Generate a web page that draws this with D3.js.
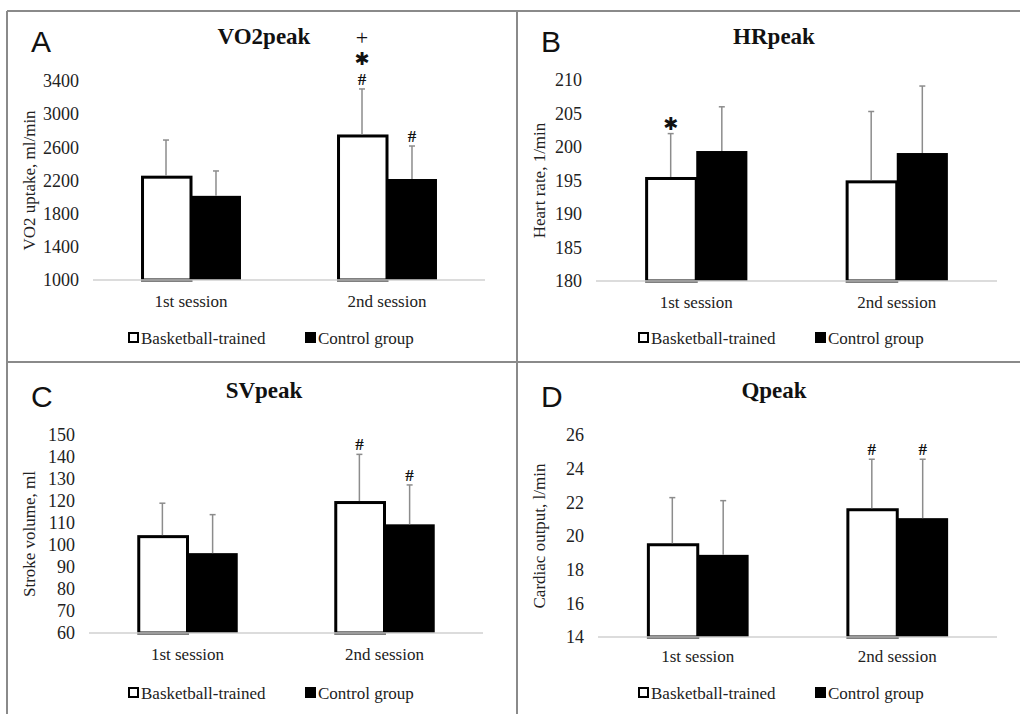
<!DOCTYPE html>
<html>
<head>
<meta charset="utf-8">
<script src="https://cdn.jsdelivr.net/npm/d3@7"></script>
<style>
  body { margin: 0; background: #fff; }
  svg { display: block; }
</style>
</head>
<body>
<div id="chart"></div>
<script>
// data
const sessions = ["1st session", "2nd session"];
const groups = ["Basketball-trained", "Control group"];

const vo2Trained = [2240, 2737], vo2TrainedSd = [448, 567];
const vo2Control = [2015, 2218], vo2ControlSd = [300, 398];
const vo2Ticks = [1000, 1400, 1800, 2200, 2600, 3000, 3400];
const vo2Marks = [[[], []], [["#", "✱", "+"], ["#"]]];

const hrTrained = [195.3, 194.8], hrTrainedSd = [6.7, 10.5];
const hrControl = [199.4, 199.1], hrControlSd = [6.6, 10.0];
const hrTicks = [180, 185, 190, 195, 200, 205, 210];
const hrMarks = [[["✱"], []], [[], []]];

const svTrained = [103.8, 119.3], svTrainedSd = [15.2, 21.9];
const svControl = [96.3, 109.4], svControlSd = [17.5, 17.9];
const svTicks = [60, 70, 80, 90, 100, 110, 120, 130, 140, 150];
const svMarks = [[[], []], [["#"], ["#"]]];

const qTrained = [19.48, 21.56], qTrainedSd = [2.8, 3.0];
const qControl = [18.88, 21.06], qControlSd = [3.22, 3.5];
const qTicks = [14, 16, 18, 20, 22, 24, 26];
const qMarks = [[[], []], [["#"], ["#"]]];

// panel layout
const panels = [
  {letter: "A", title: "VO2peak", ylab: "VO2 uptake, ml/min", x0: 7, y0: 11,
   left: 86, right: 478, top: 70, bottom: 269, titleY: 33, letterY: 41, xlabY: 296, legY: 327,
   trained: vo2Trained, trainedSd: vo2TrainedSd, control: vo2Control, controlSd: vo2ControlSd, ticks: vo2Ticks, marks: vo2Marks},
  {letter: "B", title: "HRpeak", ylab: "Heart rate, 1/min", x0: 517, y0: 11,
   left: 79, right: 480, top: 69, bottom: 270, titleY: 33, letterY: 41, xlabY: 297, legY: 327,
   trained: hrTrained, trainedSd: hrTrainedSd, control: hrControl, controlSd: hrControlSd, ticks: hrTicks, marks: hrMarks},
  {letter: "C", title: "SVpeak", ylab: "Stroke volume, ml", x0: 7, y0: 362,
   left: 82, right: 476, top: 73, bottom: 271, titleY: 36, letterY: 45, xlabY: 298, legY: 331,
   trained: svTrained, trainedSd: svTrainedSd, control: svControl, controlSd: svControlSd, ticks: svTicks, marks: svMarks},
  {letter: "D", title: "Qpeak", ylab: "Cardiac output, l/min", x0: 517, y0: 362,
   left: 81, right: 480, top: 73, bottom: 275, titleY: 36, letterY: 45, xlabY: 300, legY: 331,
   trained: qTrained, trainedSd: qTrainedSd, control: qControl, controlSd: qControlSd, ticks: qTicks, marks: qMarks}
];

const serif = "'Liberation Serif', 'Times New Roman', serif";
const sans = "'Liberation Sans', Arial, sans-serif";

const svg = d3.select("#chart")
  .append("svg")
    .attr("width", 1020)
    .attr("height", 714);

svg.append("rect").attr("width", 1020).attr("height", 714).attr("fill", "#fff");

// frame lines
const frame = svg.append("g").attr("stroke", "#8a8a8a").attr("stroke-width", 2);
frame.append("line").attr("x1", 7).attr("x2", 1020).attr("y1", 11).attr("y2", 11);
frame.append("line").attr("x1", 7).attr("x2", 7).attr("y1", 11).attr("y2", 714);
frame.append("line").attr("x1", 7).attr("x2", 1020).attr("y1", 362).attr("y2", 362);
frame.append("line").attr("x1", 517).attr("x2", 517).attr("y1", 11).attr("y2", 714);

// glyph styles for the significance symbols (dy = baseline shift from symbol centre)
const markStyle = {
  "#": {size: 17, family: serif, weight: "bold", dy: 6},
  "✱": {size: 18, family: "'DejaVu Sans', sans-serif", weight: "normal", dy: 6},
  "+": {size: 22, family: serif, weight: "normal", dy: 6}
};

panels.forEach(p => {
  const g = svg.append("g").attr("transform", `translate(${p.x0},${p.y0})`);

  const x = d3.scaleBand()
    .domain(sessions)
    .range([p.left, p.right])
    .paddingInner(0.49)
    .paddingOuter(0.245);

  const xg = d3.scaleBand()
    .domain(groups)
    .range([0, x.bandwidth()]);

  const y = d3.scaleLinear()
    .domain(d3.extent(p.ticks))
    .range([p.bottom, p.top]);

  // y axis (labels only)
  const yAxis = g.append("g")
    .attr("transform", `translate(${p.left - 5},0)`)
    .call(d3.axisLeft(y).tickValues(p.ticks).tickSize(0).tickPadding(9).tickFormat(d3.format("d")));
  yAxis.select(".domain").remove();
  yAxis.attr("font-family", serif).attr("font-size", 18);
  yAxis.selectAll("text").attr("fill", "#222");

  // axis label
  g.append("text")
    .attr("transform", `translate(22,${(p.top + p.bottom) / 2}) rotate(-90)`)
    .attr("text-anchor", "middle")
    .attr("dominant-baseline", "central")
    .attr("font-family", serif)
    .attr("font-size", 17)
    .attr("fill", "#222")
    .text(p.ylab);

  const rows = [];
  sessions.forEach((s, i) => {
    rows.push({session: s, group: groups[0], v: p.trained[i], sd: p.trainedSd[i], mark: p.marks[i][0]});
    rows.push({session: s, group: groups[1], v: p.control[i], sd: p.controlSd[i], mark: p.marks[i][1]});
  });

  // bars
  g.selectAll(".bar")
    .data(rows)
    .enter().append("rect")
      .attr("class", "bar")
      .attr("x", d => x(d.session) + xg(d.group) + (d.group === groups[0] ? 1.5 : 0))
      .attr("y", d => y(d.v))
      .attr("width", d => xg.bandwidth() - (d.group === groups[0] ? 1.5 : 0))
      .attr("height", d => y.range()[0] - y(d.v))
      .attr("fill", d => d.group === groups[0] ? "#fff" : "#000")
      .attr("stroke", "#000")
      .attr("stroke-width", d => d.group === groups[0] ? 3 : 0);

  // baseline
  g.append("line")
    .attr("x1", p.left).attr("x2", p.right)
    .attr("y1", y.range()[0]).attr("y2", y.range()[0])
    .attr("stroke", "#d0d0d0")
    .attr("stroke-width", 1.5);

  // error bars
  const cx = d => x(d.session) + xg(d.group) + xg.bandwidth() / 2;
  const eb = g.selectAll(".err").data(rows).enter().append("g").attr("class", "err")
    .attr("stroke", "#8c8c8c").attr("stroke-width", 1.5);
  eb.append("line")
    .attr("x1", cx).attr("x2", cx)
    .attr("y1", d => y(d.v) - (d.group === groups[0] ? 1.5 : 0))
    .attr("y2", d => y(d.v + d.sd));
  eb.append("line")
    .attr("x1", d => cx(d) - 3).attr("x2", d => cx(d) + 3)
    .attr("y1", d => y(d.v + d.sd)).attr("y2", d => y(d.v + d.sd));

  // significance marks, stacked above the error bar
  rows.filter(d => d.mark.length).forEach(d => {
    d.mark.forEach((m, k) => {
      const st = markStyle[m];
      g.append("text")
        .attr("x", cx(d))
        .attr("y", y(d.v + d.sd) - 10 - k * 20 + st.dy)
        .attr("text-anchor", "middle")
        .attr("font-family", st.family)
        .attr("font-weight", st.weight)
        .attr("font-size", st.size)
        .attr("fill", "#111")
        .text(m);
    });
  });

  // x labels
  g.selectAll(".xlab")
    .data(sessions)
    .enter().append("text")
      .attr("x", d => x(d) + x.bandwidth() / 2)
      .attr("y", p.xlabY)
      .attr("text-anchor", "middle")
      .attr("font-family", serif)
      .attr("font-size", 17)
      .attr("fill", "#222")
      .text(d => d);

  // title and panel letter
  g.append("text")
    .attr("x", 257).attr("y", p.titleY)
    .attr("text-anchor", "middle")
    .attr("font-family", serif)
    .attr("font-weight", "bold")
    .attr("font-size", 23)
    .attr("fill", "#111")
    .text(p.title);

  g.append("text")
    .attr("x", 24).attr("y", p.letterY)
    .attr("font-family", sans)
    .attr("font-size", 30)
    .attr("fill", "#111")
    .text(p.letter);

  // legend
  const leg = g.append("g").attr("transform", `translate(121,${p.legY})`);
  const legX = [0, 177];
  groups.forEach((grp, i) => {
    leg.append("rect")
      .attr("x", legX[i] + 1).attr("y", -5)
      .attr("width", 9).attr("height", 9)
      .attr("fill", i === 0 ? "#fff" : "#000")
      .attr("stroke", "#000")
      .attr("stroke-width", 2);
    leg.append("text")
      .attr("x", legX[i] + 13).attr("y", 6)
      .attr("font-family", serif)
      .attr("font-size", 17)
      .attr("fill", "#222")
      .text(grp);
  });
});
</script>
</body>
</html>
